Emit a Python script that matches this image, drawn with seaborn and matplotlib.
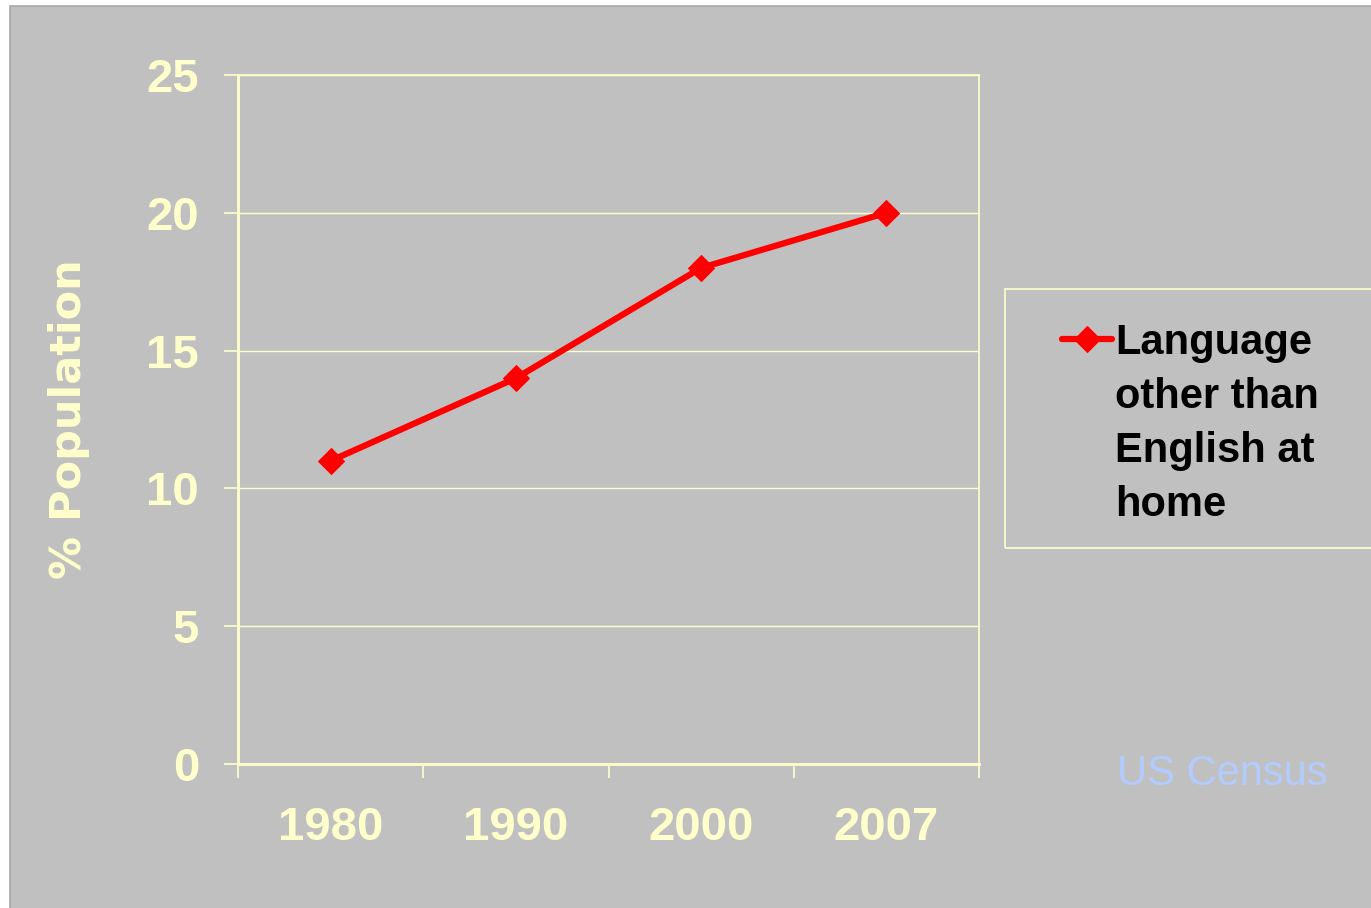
import matplotlib
matplotlib.use('Agg')
import matplotlib.pyplot as plt
from matplotlib.patches import Rectangle
import seaborn as sns
import pandas as pd

# chart data
years = ['1980', '1990', '2000', '2007']
pct_other_language = [11, 14, 18, 20]
series_name = 'Language\nother than\nEnglish at\nhome'
y_ticks = [0, 5, 10, 15, 20, 25]

# colours
bg_gray = '#C0C0C0'
pale_yellow = '#FFFFCC'
line_red = '#FF0000'
source_blue = '#B3CCFF'

sns.set_style('white')
plt.rcParams['font.family'] = ['Liberation Sans', 'DejaVu Sans']

df = pd.DataFrame({'year': years, 'pct': pct_other_language})

fig = plt.figure(figsize=(13.71, 9.08), dpi=100, facecolor='white')
# gray slide area with thin border, leaving a white strip left and top
fig.patches.append(Rectangle((10 / 1371, -0.01), 1.0, 1 - 6 / 908 + 0.01,
                             transform=fig.transFigure, facecolor=bg_gray,
                             edgecolor='#A8A8A8', linewidth=1.2, zorder=-10))

ax = fig.add_axes([238 / 1371, 1 - 764 / 908, 741 / 1371, 689 / 908])
ax.set_facecolor(bg_gray)

sns.lineplot(data=df, x='year', y='pct', ax=ax, color=line_red, linewidth=4.5,
             marker='D', markersize=13, markeredgecolor=line_red,
             label=series_name, sort=False)

ax.set_xlim(-0.5, len(years) - 0.5)
ax.set_ylim(0, 25)
ax.set_yticks(y_ticks)
ax.set_yticklabels([str(t) for t in y_ticks])

# category boundaries as major ticks, labels on minor ticks at the centres
ax.set_xticks([i - 0.5 for i in range(len(years) + 1)])
ax.set_xticklabels([])
ax.set_xticks(range(len(years)), minor=True)
ax.set_xticklabels(years, minor=True)

ax.tick_params(axis='x', which='major', direction='out', length=10, width=1.2,
               color=pale_yellow, bottom=True)
ax.tick_params(axis='x', which='minor', length=0, pad=30, labelsize=34,
               labelcolor=pale_yellow)
ax.tick_params(axis='y', direction='out', length=10, width=1.2, pad=18,
               color=pale_yellow, labelcolor=pale_yellow, labelsize=34, left=True)
for lbl in ax.get_xticklabels(minor=True) + ax.get_yticklabels():
    lbl.set_fontweight('bold')

ax.grid(axis='y', color=pale_yellow, linewidth=1.0)
ax.grid(axis='x', visible=False)
for side in ['left', 'bottom', 'top', 'right']:
    ax.spines[side].set_visible(True)
    ax.spines[side].set_color(pale_yellow)
ax.spines['left'].set_linewidth(2)
ax.spines['bottom'].set_linewidth(2)
ax.spines['top'].set_linewidth(1.2)
ax.spines['right'].set_linewidth(1.2)

ax.set_xlabel('')
ax.set_ylabel('% Population', color=pale_yellow, fontsize=31,
              fontweight='bold', family='DejaVu Sans')
ax.yaxis.set_label_coords(-0.2, 0.5)

# legend, frame drawn separately since it runs past the figure edge
leg = ax.legend(loc='upper left', bbox_to_anchor=(1062 / 1371, 1 - 323 / 908),
                bbox_transform=fig.transFigure, frameon=False,
                prop={'weight': 'bold', 'size': 30}, handlelength=1.2,
                handleheight=1.0, handletextpad=0.08, borderpad=0,
                borderaxespad=0, labelspacing=0)
for t in leg.get_texts():
    t.set_color('black')
    t.set_linespacing(1.45)
# put the marker beside the first line of the label, not the middle
for column in leg._legend_handle_box.get_children():
    for item in column.get_children():
        item.align = 'top'
fig.patches.append(Rectangle((1005 / 1371, 1 - 548 / 908), 0.4, 259 / 908,
                             transform=fig.transFigure, facecolor='none',
                             edgecolor=pale_yellow, linewidth=1.2))

fig.text(1117 / 1371, 1 - 785 / 908, 'US Census', color=source_blue,
         fontsize=30, ha='left', va='baseline')

fig.savefig('out.png', dpi=100, facecolor=fig.get_facecolor())
